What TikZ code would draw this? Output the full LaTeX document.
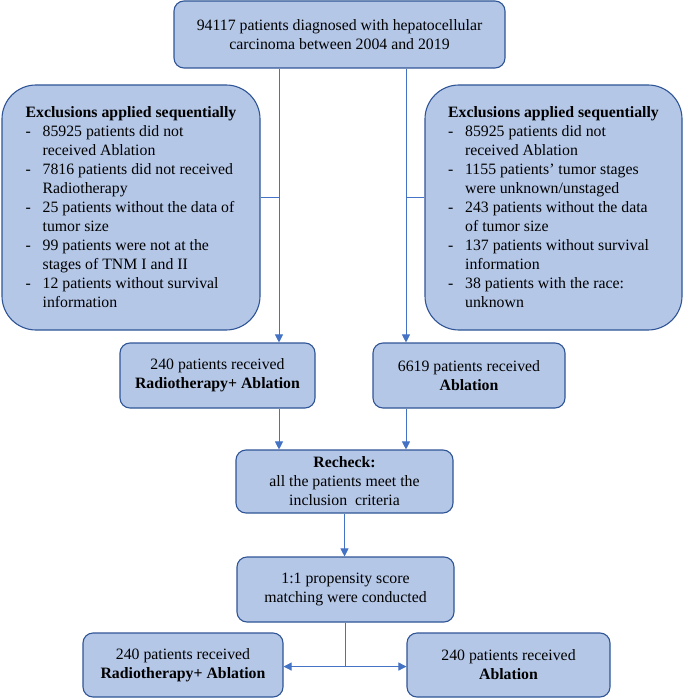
\documentclass[tikz,border=0pt]{standalone}
\usepackage{xcolor}
\usepackage{fontspec}
\setmainfont{Liberation Serif}
\usepackage{tikz}
\usetikzlibrary{arrows.meta, positioning, calc}
\definecolor{boxfill}{HTML}{B4C7E7}
\definecolor{boxline}{HTML}{2F5597}
\definecolor{arrline}{HTML}{4472C4}
\newcommand{\exdash}{\makebox[17pt][l]{-}}
\newcommand{\exind}{\hspace*{17pt}}
\tikzset{
  blk/.style ={rectangle, rounded corners=10pt, draw=boxline, fill=boxfill, line width=1.1pt, align=center, inner sep=0pt, font=\fontsize{15.8}{19}\selectfont},
  exc/.style ={blk, rounded corners=34pt, align=left},
  ln/.style  ={draw=arrline, line width=0.9pt},
  fl/.style  ={ln, -{Triangle[length=8pt, width=8pt]}},
}
\begin{document}
\begin{tikzpicture}[x=1pt, y=-1pt]
  \useasboundingbox (0,0) rectangle (685,700);
  \node[blk, minimum width=331pt, minimum height=67pt] (top) at (339.5,34.5) {94117 patients diagnosed with hepatocellular\\carcinoma between 2004 and 2019};
  \node[exc, minimum width=258pt, minimum height=245pt] (exL) at (131,207.5) {\textbf{Exclusions applied sequentially}\\
    \exdash 85925 patients did not\\ \exind received Ablation\\
    \exdash 7816 patients did not received\\ \exind Radiotherapy\\
    \exdash 25 patients without the data of\\ \exind tumor size\\
    \exdash 99 patients were not at the\\ \exind stages of TNM I and II\\
    \exdash 12 patients without survival\\ \exind information};
  \node[exc, minimum width=257pt, minimum height=245pt] (exR) at (553.5,207.5) {\textbf{Exclusions applied sequentially}\\
    \exdash 85925 patients did not\\ \exind received Ablation\\
    \exdash 1155 patients’ tumor stages\\ \exind were unknown/unstaged\\
    \exdash 243 patients without the data\\ \exind of tumor size\\
    \exdash 137 patients without survival\\ \exind information\\
    \exdash 38 patients with the race:\\ \exind unknown};
  \node[blk, minimum width=195pt, minimum height=65pt] (rtaL) at (217.5,375.5) {240 patients received\\\textbf{Radiotherapy+ Ablation}};
  \node[blk, minimum width=192pt, minimum height=65pt] (abl) at (469,375.5) {6619 patients received\\\textbf{Ablation}};
  \node[blk, minimum width=217pt, minimum height=63pt] (recheck) at (344.5,481.5) {\textbf{Recheck:}\\all the patients meet the\\inclusion~~criteria};
  \node[blk, minimum width=217pt, minimum height=65pt] (psm) at (345.5,589.5) {1:1 propensity score\\matching were conducted};
  \node[blk, minimum width=200pt, minimum height=64pt] (outL) at (183,665) {240 patients received\\\textbf{Radiotherapy+ Ablation}};
  \node[blk, minimum width=203pt, minimum height=64pt] (outR) at (508.5,665) {240 patients received\\\textbf{Ablation}};
  % branch columns
  \coordinate (lx) at (279,0);
  \coordinate (rx) at (406,0);
  \coordinate (brk) at (0,197);
  \draw[fl] (top.south -| lx) -- (rtaL.north -| lx);
  \draw[fl] (top.south -| rx) -- (abl.north -| rx);
  \draw[ln] (exL.east |- brk) -- (lx |- brk);
  \draw[ln] (exR.west |- brk) -- (rx |- brk);
  \draw[fl] (rtaL.south -| lx) -- (recheck.north -| lx);
  \draw[fl] (abl.south -| rx) -- (recheck.north -| rx);
  \draw[fl] (recheck.south) -- (recheck.south |- psm.north);
  \draw[ln] (psm.south) -- ++(0,44) coordinate (split);
  \draw[fl] (split) -- (outL.east |- split);
  \draw[fl] (split) -- (outR.west |- split);
\end{tikzpicture}
\end{document}
